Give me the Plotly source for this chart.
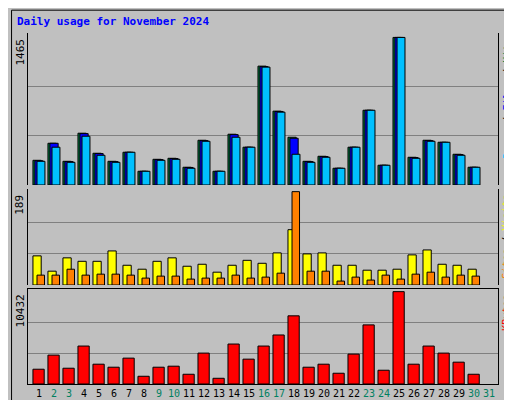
import plotly.graph_objects as go

days = list(range(1, 31))
day_labels = [str(d) for d in range(1, 32)]
weekend = [2, 3, 9, 10, 16, 17, 23, 24, 30, 31]

hits = [245, 414, 235, 514, 315, 235, 325, 136, 255, 265, 176, 444, 136, 504, 375,
        1180, 733, 474, 235, 285, 166, 375, 742, 196, 1465, 275, 444, 424, 305, 176]
files = [240, 414, 232, 510, 312, 232, 325, 136, 252, 262, 174, 440, 136, 500, 375,
         1175, 730, 464, 232, 282, 166, 375, 742, 196, 1465, 272, 440, 424, 302, 176]
pages = [235, 375, 225, 484, 295, 225, 325, 136, 245, 255, 166, 434, 136, 474, 375,
         1170, 723, 305, 225, 275, 166, 375, 742, 196, 1465, 265, 434, 424, 295, 176]
visits = [59, 28, 55, 48, 48, 69, 40, 32, 48, 55, 38, 42, 26, 40, 50,
          44, 65, 112, 63, 65, 40, 40, 30, 30, 32, 61, 71, 42, 40, 32]
sites = [20, 20, 32, 20, 22, 22, 20, 14, 18, 18, 12, 14, 14, 20, 14,
         16, 24, 189, 28, 28, 8, 16, 10, 20, 12, 22, 26, 16, 20, 18]
kbytes = [1669, 3262, 1783, 4287, 2238, 1897, 2921, 872, 1897, 2011, 1100, 3490, 645, 4514, 2807,
          4287, 5538, 7700, 1897, 2238, 1214, 3376, 6676, 1555, 10432, 2238, 4287, 3490, 2466, 1100]

fig = go.Figure()
line = dict(color="black", width=1)

def add(y, color, offset, width, ax):
    fig.add_trace(go.Bar(x=days, y=y, marker=dict(color=color, line=line),
                         offset=offset, width=width, xaxis="x", yaxis=ax))

add(hits, "#008040", -0.4, 0.55, "y")
add(files, "#0000ff", -0.27, 0.55, "y")
add(pages, "#00c0ff", -0.13, 0.53, "y")
add(visits, "#ffff00", -0.4, 0.55, "y2")
add(sites, "#ff8000", -0.13, 0.5, "y2")
add(kbytes, "#ff0000", -0.4, 0.75, "y3")

ticktext = [f"<span style='color:#008060'>{t}</span>" if int(t) in weekend else t
            for t in day_labels]

fig.update_layout(
    width=512, height=400, showlegend=False, barmode="overlay",
    paper_bgcolor="#c0c0c0", plot_bgcolor="#c0c0c0",
    margin=dict(l=20, r=22, t=25, b=24, autoexpand=False),
    font=dict(family="DejaVu Sans Mono", size=11, color="black"),
    xaxis=dict(range=[0.27, 31.6], tickvals=list(range(1, 32)), ticktext=ticktext,
               tickangle=0, tickfont=dict(size=10), ticks="", showgrid=False, anchor="y3",
               showline=True, linecolor="black", mirror=True, fixedrange=True),
)

def yax(mx, dom):
    return dict(domain=dom, range=[0, mx * 1.03], tickvals=[mx / 3, 2 * mx / 3],
                showticklabels=False, ticks="", gridcolor="#808080", gridwidth=1,
                zeroline=False, showline=True, linecolor="black", mirror=True)

fig.update_layout(yaxis=yax(1465, [0.567, 1.0]), yaxis2=yax(189, [0.282, 0.556]),
                  yaxis3=yax(10432, [0.0, 0.271]))
fig.update_layout(yaxis2=dict(anchor="x"), yaxis3=dict(anchor="x"))

fig.add_annotation(text="<b>Daily usage for November 2024</b>", xref="paper", yref="paper",
                   x=-0.027, y=1.0, yshift=12, xanchor="left", yanchor="middle",
                   showarrow=False, font=dict(color="#0000ff", size=11))
for txt, yy in [("1465", 1.0), ("189", 0.556), ("10432", 0.271)]:
    fig.add_annotation(text=txt, textangle=-90, xref="paper", yref="paper", x=0, xshift=-8,
                       y=yy, yshift=-4, xanchor="center", yanchor="top", showarrow=False)

right = [("<span style='color:#00c0ff'>Pages</span> / <span style='color:#0000ff'>Files</span>"
          " / <span style='color:#008040'>Hits</span>", 1.0),
         ("<span style='color:#ff8000'>Sites</span> / <span style='color:#ffff00'>Visits</span>", 0.556),
         ("<span style='color:#ff0000'>KBytes</span>", 0.271)]
for txt, yy in right:
    fig.add_annotation(text=txt, textangle=-90, xref="paper", yref="paper", x=1, xshift=9,
                       y=yy, yshift=-4, xanchor="center", yanchor="top", showarrow=False,
                       font=dict(size=10))

fig.add_shape(type="rect", xref="paper", yref="paper", x0=-0.035, x1=1.04, y0=-0.07, y1=1.065,
              line=dict(color="black", width=1))

fig.write_html("out.html")
